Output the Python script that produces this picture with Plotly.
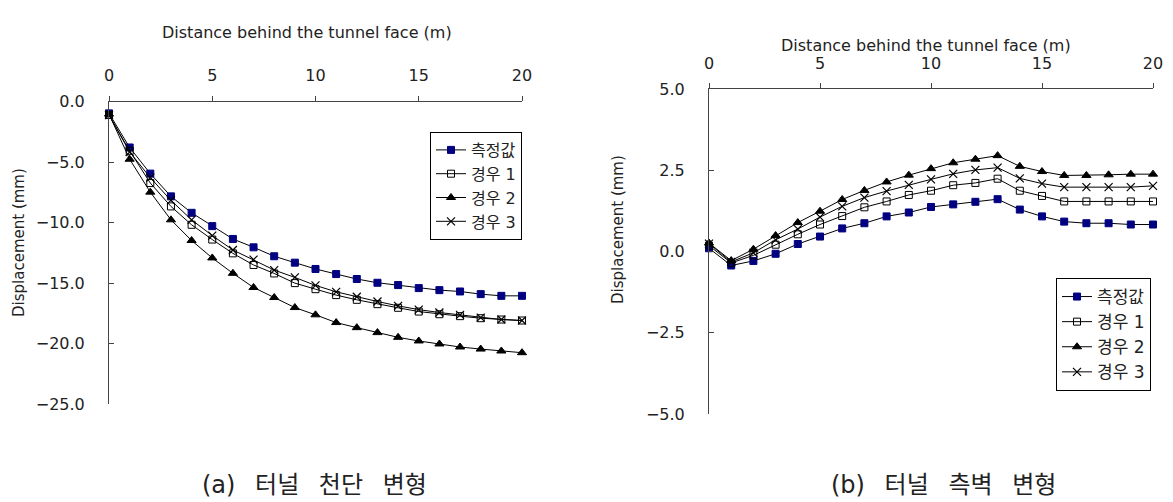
import plotly.graph_objects as go

dist = list(range(0, 21))

# (a) crown displacement
crown_measured = [-0.98, -3.80, -5.96, -7.84, -9.20, -10.30, -11.36, -12.05, -12.79, -13.32, -13.84,
                  -14.26, -14.67, -14.98, -15.17, -15.42, -15.59, -15.70, -15.92, -16.06, -16.06]
crown_case1 = [-1.12, -4.08, -6.74, -8.67, -10.19, -11.41, -12.55, -13.51, -14.21, -15.01, -15.51,
               -16.00, -16.39, -16.75, -17.05, -17.36, -17.58, -17.74, -17.91, -18.02, -18.10]
crown_case2 = [-1.04, -4.77, -7.49, -9.78, -11.49, -12.93, -14.20, -15.37, -16.20, -17.03, -17.63,
               -18.27, -18.69, -19.10, -19.49, -19.79, -20.04, -20.29, -20.46, -20.62, -20.76]
crown_case3 = [-1.12, -4.17, -6.29, -8.17, -9.78, -11.08, -12.27, -13.07, -13.93, -14.54, -15.20,
               -15.73, -16.14, -16.53, -16.89, -17.20, -17.44, -17.63, -17.86, -18.02, -18.10]

# (b) side wall displacement
wall_measured = [0.10, -0.43, -0.29, -0.07, 0.23, 0.46, 0.71, 0.87, 1.08, 1.20, 1.37,
                 1.45, 1.53, 1.61, 1.29, 1.08, 0.92, 0.87, 0.87, 0.83, 0.83]
wall_case1 = [0.18, -0.35, -0.12, 0.21, 0.53, 0.83, 1.09, 1.36, 1.54, 1.74, 1.87,
              2.04, 2.11, 2.24, 1.87, 1.71, 1.54, 1.54, 1.54, 1.54, 1.54]
wall_case2 = [0.26, -0.28, 0.07, 0.49, 0.89, 1.24, 1.60, 1.88, 2.14, 2.35, 2.55,
              2.73, 2.84, 2.95, 2.62, 2.46, 2.34, 2.34, 2.36, 2.38, 2.38]
wall_case3 = [0.24, -0.32, -0.04, 0.36, 0.69, 1.06, 1.39, 1.66, 1.86, 2.05, 2.22,
              2.39, 2.51, 2.58, 2.25, 2.09, 1.98, 1.98, 1.98, 1.98, 2.02]

series_names = ["측정값", "경우 1", "경우 2", "경우 3"]
x_title = "Distance behind the tunnel face (m)"
y_title = "Displacement (mm)"
captions = ["(a) 터널 천단 변형", "(b) 터널 측벽 변형"]

FONT = "DejaVu Sans, Noto Sans CJK KR"
styles = [
    dict(symbol="square", color="#000080", size=7, line=dict(color="#000080", width=1)),
    dict(symbol="square-open", color="black", size=7, line=dict(color="black", width=1)),
    dict(symbol="triangle-up", color="black", size=8, line=dict(color="black", width=1)),
    dict(symbol="x-thin-open", color="black", size=8, line=dict(color="black", width=1.2)),
]

fig = go.Figure()
crown = [crown_measured, crown_case1, crown_case2, crown_case3]
wall = [wall_measured, wall_case1, wall_case2, wall_case3]
for i, (name, ys) in enumerate(zip(series_names, crown)):
    fig.add_trace(go.Scatter(x=dist, y=ys, name=name, mode="lines+markers",
                             line=dict(color="black", width=1), marker=styles[i],
                             xaxis="x", yaxis="y", legend="legend", cliponaxis=False))
for i, (name, ys) in enumerate(zip(series_names, wall)):
    fig.add_trace(go.Scatter(x=dist, y=ys, name=name, mode="lines+markers",
                             line=dict(color="black", width=1), marker=styles[i],
                             xaxis="x2", yaxis="y2", legend="legend2", cliponaxis=False))

W, H = 1173, 502
def px(v): return v / W
def py(v): return 1 - v / H

xcommon = dict(side="top", range=[0, 20], dtick=5, showline=True, linecolor="#444", linewidth=1,
               ticks="outside", ticklen=5, tickcolor="#444", showgrid=False, zeroline=False,
               automargin=False,
               tickfont=dict(family=FONT, size=16, color="#222"), ticklabelstandoff=8)
ycommon = dict(showline=True, linecolor="#444", linewidth=1, ticks="inside", ticklen=5,
               tickcolor="#444", showgrid=False, zeroline=False, tickformat=".1f",
               automargin=False,
               tickfont=dict(family=FONT, size=16, color="#222"), ticklabelstandoff=20)

legcommon = dict(bgcolor="white", bordercolor="black", borderwidth=1, itemwidth=30,
                 xanchor="right", yanchor="top", tracegroupgap=0, xref="paper", yref="paper")

fig.update_layout(
    width=W, height=H, margin=dict(l=0, r=0, t=0, b=0, autoexpand=False),
    paper_bgcolor="white", plot_bgcolor="white",
    font=dict(family=FONT, color="#222"),
    xaxis=dict(domain=[px(109), px(522)], anchor="y", **xcommon),
    yaxis=dict(domain=[py(404), py(101.5)], anchor="x", range=[-25, 0], dtick=5, **ycommon),
    xaxis2=dict(domain=[px(709), px(1153)], anchor="y2", **xcommon),
    yaxis2=dict(domain=[py(414), py(89)], anchor="x2", range=[-5, 5], dtick=2.5, **ycommon),
    legend=dict(x=px(522), y=py(132), font=dict(family=FONT, size=16, color="#222"), **legcommon),
    legend2=dict(x=px(1151), y=py(278), font=dict(family=FONT, size=17, color="#222"), **legcommon),
    showlegend=True,
)

ann = [
    dict(text=x_title, x=px(307), y=py(33), font=dict(size=16)),
    dict(text=x_title, x=px(926), y=py(45), font=dict(size=16)),
    dict(text=y_title, x=px(19), y=py(243), textangle=-90, font=dict(size=15)),
    dict(text=y_title, x=px(618), y=py(230), textangle=-90, font=dict(size=15)),
    dict(text=captions[0].replace(" ", " \u2002"), x=px(314), y=py(485), font=dict(size=24)),
    dict(text=captions[1].replace(" ", " \u2002"), x=px(943), y=py(485), font=dict(size=24)),
]
for a in ann:
    fig.add_annotation(xref="paper", yref="paper", showarrow=False, xanchor="center", yanchor="middle",
                       text=a["text"], x=a["x"], y=a["y"], textangle=a.get("textangle", 0),
                       font=dict(family=FONT, color="#222", **a["font"]))

fig.write_html("out.html", config={"displayModeBar": False},
               post_script="document.body.style.margin='0';document.body.style.padding='0';")
